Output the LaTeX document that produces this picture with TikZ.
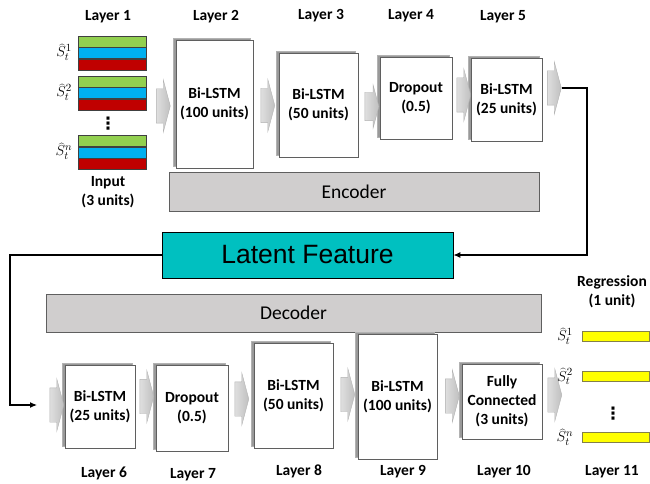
\documentclass[tikz,border=0pt]{standalone}
\usepackage{fontspec}
\setmainfont{Carlito}
\newfontfamily\arialfont{Liberation Sans}
\newfontfamily\dotfont{DejaVu Sans}
\usetikzlibrary{shapes.arrows,shadows,arrows.meta}
\definecolor{edgeGrey}{RGB}{95,95,95}
\definecolor{bandFill}{RGB}{208,206,206}
\definecolor{latentFill}{RGB}{0,192,192}
\definecolor{inGreen}{RGB}{146,208,80}
\definecolor{inBlue}{RGB}{0,176,240}
\definecolor{inRed}{RGB}{192,0,0}
\definecolor{outYellow}{RGB}{255,255,0}

\begin{document}
\begin{tikzpicture}[x=1pt,y=-1pt,
  layer/.style={draw=edgeGrey,fill=white,line width=0.6pt,inner sep=0pt,align=center,
                font=\fontsize{15.5}{19}\selectfont\bfseries,
                general shadow={fill=gray!80,draw=gray!60,line width=0.4pt,
                                shadow xshift=-2.5pt,shadow yshift=2pt}},
  flow/.style={single arrow,draw=gray!60,left color=gray!25,right color=gray!50,
               inner xsep=0pt,inner ysep=17pt,minimum height=14pt,
               single arrow head extend=9pt,single arrow tip angle=150},
  band/.style={draw=edgeGrey,fill=bandFill,line width=0.6pt,
               font=\fontsize{19.5}{22}\selectfont},
  lname/.style={font=\fontsize{15.5}{19}\selectfont\bfseries,align=center},
  stripe/.style={draw=black!75,line width=0.5pt,minimum width=68pt,
                 minimum height=11pt,inner sep=0pt},
  bar/.style={draw=black!55!yellow,fill=outYellow,line width=0.6pt,
              minimum width=67pt,minimum height=10pt,inner sep=0pt},
  est/.style={font=\fontsize{15.5}{17}\selectfont,inner sep=0pt},
  dots/.style={font=\dotfont\bfseries\fontsize{17}{17}\selectfont,inner sep=0pt},
  link/.style={-{Latex[length=7pt,width=6pt]},line width=1.1pt}
]
\useasboundingbox (0,0) rectangle (650,484);

% ==========  Layer names  ==========
\node[lname] (n1) at (108,17) {Layer 1};
\node[lname] (n2) at (216,17) {Layer 2};
\node[lname] (n3) at (321,16) {Layer 3};
\node[lname] (n4) at (411,16) {Layer 4};
\node[lname] (n5) at (503,17) {Layer 5};
\node[lname] (n6) at (104,473) {Layer 6};
\node[lname] (n7) at (193,475) {Layer 7};
\node[lname] (n8) at (299,471) {Layer 8};
\node[lname] (n9) at (403,472) {Layer 9};
\node[lname] (n10) at (504,472) {Layer 10};
\node[lname] (n11) at (612,472) {Layer 11};

% ==========  Input (layer 1)  ==========
\foreach \k/\y/\s in {1/36/1,2/76/2,3/135/n}{
  \node[stripe,fill=inGreen,anchor=north] (in\k g) at (112,\y) {};
  \node[stripe,fill=inBlue,anchor=north] (in\k b) at (in\k g.south) {};
  \node[stripe,fill=inRed,anchor=north] (in\k r) at (in\k b.south) {};
  \node[est] (in\k s) at (64,\y+16) {$\widehat{S}_t^{\s}$};
}
\node[dots] (indots) at (108,124) {⋮};
\node[lname] (input) at (108,192) {Input\\(3 units)};

% ==========  Encoder layers  ==========
\node[layer,minimum width=77pt,minimum height=128pt] (l2) at (214.5,104) {Bi-LSTM\\(100 units)};
\node[layer,minimum width=79pt,minimum height=104pt] (l3) at (318.5,105) {Bi-LSTM\\(50 units)};
\node[layer,minimum width=72pt,minimum height=82pt] (l4) at (416,98) {Dropout\\(0.5)};
\node[layer,minimum width=71pt,minimum height=83pt] (l5) at (506.5,99.5) {Bi-LSTM\\(25 units)};

\node[flow] (a1) at (161,106) {};
\node[flow] (a2) at (265.5,105.5) {};
\node[flow,inner ysep=14pt,single arrow head extend=7.5pt] (a3) at (370,106.5) {};
\node[flow] (a4) at (461.5,95) {};
\node[flow] (a5) at (552,88) {};

\node[band,minimum width=370pt,minimum height=39pt] (enc) at (354,191.5) {Encoder};

% ==========  Latent feature  ==========
\node[draw=black,fill=latentFill,line width=0.8pt,minimum width=291pt,minimum height=46pt,
      font=\arialfont\fontsize{26.5}{30}\selectfont] (latent) at (307.5,255) {Latent Feature};

\coordinate (turnR) at (587,255);
\coordinate (turnL) at (10,255);
\coordinate (feedL) at (37,405);
\draw[link] (a5.tip) -| (turnR) -- (latent.east);
\draw[link] (latent.west) -- (turnL) |- (feedL);

% ==========  Decoder layers  ==========
\node[band,minimum width=495pt,minimum height=38pt] (dec) at (293.5,313) {Decoder};

\node[layer,minimum width=70pt,minimum height=83pt] (l6) at (100,406.5) {Bi-LSTM\\(25 units)};
\node[layer,minimum width=72pt,minimum height=86pt] (l7) at (192,408) {Dropout\\(0.5)};
\node[layer,minimum width=79pt,minimum height=105pt] (l8) at (293.5,395.5) {Bi-LSTM\\(50 units)};
\node[layer,minimum width=79pt,minimum height=125pt] (l9) at (397.5,396.5) {Bi-LSTM\\(100 units)};
\node[layer,minimum width=80pt,minimum height=75pt] (l10) at (502,401.5) {Fully\\Connected\\(3 units)};

\node[flow] (a6) at (54.5,405) {};
\node[flow] (a7) at (144.5,396.5) {};
\node[flow] (a8) at (239.5,399) {};
\node[flow] (a9) at (345.5,394.5) {};
\node[flow] (a10) at (450,396) {};
\node[flow] (a11) at (552.5,395) {};

% ==========  Regression output (layer 11)  ==========
\node[lname] (reg) at (612,292) {Regression\\(1 unit)};
\foreach \k/\y/\s in {1/336/1,2/376.5/2,3/437/n}{
  \node[bar] (out\k) at (615.5,\y) {};
  \node[est] (out\k s) at (565,\y) {$\widehat{S}_t^{\s}$};
}
\node[dots] (outdots) at (613,414) {⋮};

\end{tikzpicture}
\end{document}
